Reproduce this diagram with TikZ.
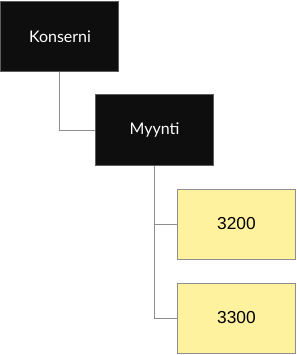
\documentclass[tikz,border=0pt]{standalone}
\usepackage{fontspec}
\setmainfont{Lato}
\newfontfamily\numfont{Liberation Sans}
\usetikzlibrary{positioning}
\definecolor{Ink}    {HTML}{0E0E0E}
\definecolor{InkD}   {HTML}{5C5C5C}
\definecolor{Lemon}  {HTML}{FFF29E}
\definecolor{LemonD} {HTML}{8E8E8E}
\definecolor{Wire}   {HTML}{8E8E8E}
\tikzset{
  unit/.style={
    rectangle, draw=InkD, fill=Ink, text=white,
    font=\fontsize{12}{14}\selectfont, align=center,
    minimum width=88.5pt, minimum height=53pt,
    inner sep=0pt, line width=0.75pt,
  },
  leaf/.style={
    rectangle, draw=LemonD, fill=Lemon, text=black,
    font=\numfont\fontsize{13}{15}\selectfont, align=center,
    minimum width=89pt, minimum height=52.5pt,
    inner sep=0pt, line width=0.75pt,
  },
  wire/.style={
    draw=Wire, line width=0.75pt,
  },
}
\begin{document}
\begin{tikzpicture}[x=0.75pt,y=-0.75pt]
    \useasboundingbox (0,0) rectangle (297,355);

    \node[unit] (konserni) at (60,36.5)   {Konserni};
    \node[unit] (myynti)   at (154.5,130) {Myynti};

    \node[leaf] (k3200) at (236.5,224) {3200};
    \node[leaf] (k3300) at (236.5,318) {3300};

    \draw[wire] (konserni.south) |- (myynti.west);
    \foreach \kid in {k3200,k3300}{
      \draw[wire] (myynti.south) |- (\kid.west);
    }

  \end{tikzpicture}
\end{document}
